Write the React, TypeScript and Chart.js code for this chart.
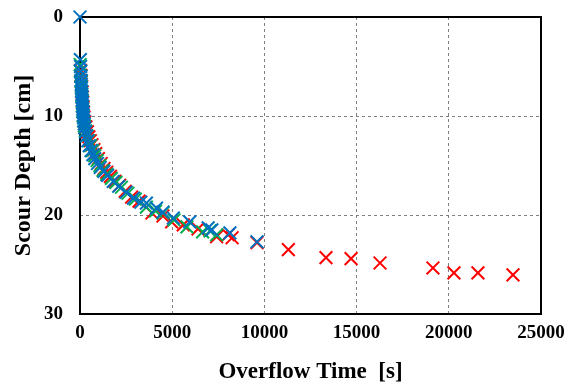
import React, { useEffect, useRef } from "react";
import { Chart, registerables } from "chart.js";

Chart.register(...registerables);

const xTicks = [0, 5000, 10000, 15000, 20000, 25000];
const yTicks = [0, 10, 20, 30];

const redSeries: [number, number][] = [
  [30, 5.4], [50, 5.9], [70, 6.5], [90, 7.0], [110, 7.6], [130, 8.1], [150, 8.6], [170, 9.1],
  [190, 9.6], [220, 10.1], [260, 10.6], [320, 11.1], [400, 11.6], [480, 12.1], [560, 12.5],
  [650, 12.9], [750, 13.4], [850, 13.8], [1000, 14.3], [1150, 14.8], [1300, 15.3], [1450, 15.7],
  [1650, 16.1], [1900, 16.6], [2150, 17.0], [2450, 17.6], [2800, 18.2], [3200, 18.6],
  [3900, 19.8], [4500, 20.1], [4970, 20.7], [5600, 21.0], [6400, 21.4], [7410, 22.2],
  [8030, 22.0], [8250, 22.3], [9600, 22.8], [11300, 23.5], [13340, 24.3], [14700, 24.4],
  [16270, 24.85], [19140, 25.35], [20280, 25.85], [21580, 25.85], [23480, 26.05],
];

const greenSeries: [number, number][] = [
  [10, 4.8], [25, 5.5], [40, 6.0], [55, 6.5], [70, 7.0], [85, 7.5], [100, 8.0], [115, 8.5],
  [130, 9.0], [150, 9.5], [170, 10.0], [200, 10.5], [240, 11.0], [300, 11.5], [380, 12.0],
  [470, 12.5], [570, 13.0], [680, 13.5], [800, 14.0], [930, 14.5], [1080, 15.0], [1250, 15.5],
  [1450, 15.9], [1700, 16.3], [1950, 16.7], [2250, 17.2], [2600, 17.8], [3000, 18.4],
  [3600, 19.2], [4100, 19.6], [4500, 19.8], [5100, 20.5], [5800, 21.2], [6650, 21.7],
  [7050, 21.6], [7410, 22.0],
];

const blueSeries: [number, number][] = [
  [0, 0], [20, 4.3], [30, 5.0], [40, 5.5], [50, 6.0], [60, 6.4], [70, 6.8], [80, 7.2],
  [90, 7.5], [100, 7.8], [110, 8.1], [120, 8.4], [130, 8.7], [140, 9.0], [150, 9.3],
  [165, 9.6], [180, 9.9], [195, 10.2], [210, 10.5], [230, 10.8], [260, 11.2], [300, 11.6],
  [350, 12.0], [420, 12.5], [500, 13.0], [600, 13.5], [700, 13.9], [800, 14.3], [950, 14.8],
  [1100, 15.2], [1300, 15.6], [1500, 16.0], [1800, 16.6], [2100, 17.1], [2500, 17.7],
  [2900, 18.3], [3300, 18.7], [3600, 18.8], [4150, 19.3], [4500, 19.7], [5060, 20.3],
  [5950, 20.7], [6950, 21.3], [7150, 21.5], [8130, 21.8], [9600, 22.7],
];

const FONT = "'Times New Roman', 'Liberation Serif', serif";

const toPts = (arr: [number, number][]) => arr.map(([x, y]) => ({ x, y }));

const boxPlugin = {
  id: "box",
  beforeDatasetsDraw(chart: any) {
    const { ctx, chartArea } = chart;
    ctx.save();
    ctx.strokeStyle = "#000";
    ctx.lineWidth = 2;
    ctx.strokeRect(chartArea.left, chartArea.top, chartArea.right - chartArea.left, chartArea.bottom - chartArea.top);
    ctx.restore();
  },
};

export default function App() {
  const ref = useRef<HTMLCanvasElement | null>(null);
  useEffect(() => {
    if (!ref.current) return;
    const mk = (label: string, data: [number, number][], color: string) => ({
      label,
      data: toPts(data),
      showLine: false,
      pointStyle: "crossRot",
      pointRadius: 9,
      pointHoverRadius: 9,
      borderColor: color,
      backgroundColor: color,
      pointBorderWidth: 2,
      borderWidth: 2,
      clip: false as any,
    });
    const chart = new Chart(ref.current, {
      type: "scatter",
      data: {
        // first dataset is drawn on top in Chart.js
        datasets: [
          mk("Blue", blueSeries, "#0070C0"),
          mk("Green", greenSeries, "#00B050"),
          mk("Red", redSeries, "#FF0000"),
        ],
      },
      options: {
        animation: false,
        responsive: false,
        devicePixelRatio: 1,
        layout: { padding: { top: 17, right: 40, left: 0, bottom: 0 } },
        plugins: { legend: { display: false }, tooltip: { enabled: false } },
        scales: {
          x: {
            type: "linear",
            min: 0,
            max: 25000,
            afterFit: (s: any) => { s.height = 73; s.paddingLeft = 0; s.paddingRight = 0; },
            afterBuildTicks: (s: any) => { s.ticks = xTicks.map((v) => ({ value: v })); },
            ticks: {
              color: "#000",
              padding: 8,
              font: { family: FONT, size: 19, weight: "bold" },
              callback: (v: any) => String(v),
            },
            grid: { color: "#7f7f7f", lineWidth: 1, drawTicks: false },
            border: { display: false, dash: [3, 3] },
            title: {
              display: true,
              text: "Overflow Time  [s]",
              color: "#000",
              font: { family: FONT, size: 23, weight: "bold" },
              padding: { top: 0, bottom: 1 },
            },
          },
          y: {
            type: "linear",
            reverse: true,
            min: 0,
            max: 30,
            afterFit: (s: any) => { s.width = 80; s.paddingTop = 0; s.paddingBottom = 0; },
            afterBuildTicks: (s: any) => { s.ticks = yTicks.map((v) => ({ value: v })); },
            ticks: {
              color: "#000",
              padding: 17,
              font: { family: FONT, size: 19, weight: "bold" },
              callback: (v: any) => String(v),
            },
            grid: { color: "#7f7f7f", lineWidth: 1, drawTicks: false },
            border: { display: false, dash: [3, 3] },
            title: {
              display: true,
              text: "Scour Depth [cm]",
              color: "#000",
              font: { family: FONT, size: 24, weight: "bold" },
              padding: { top: 9, bottom: 0 },
            },
          },
        },
      },
      plugins: [boxPlugin],
    });
    return () => chart.destroy();
  }, []);
  return (
    <div style={{ position: "absolute", left: 0, top: 0, width: 581, height: 387, background: "#fff" }}>
      <canvas ref={ref} width={581} height={387} style={{ display: "block" }} />
    </div>
  );
}
